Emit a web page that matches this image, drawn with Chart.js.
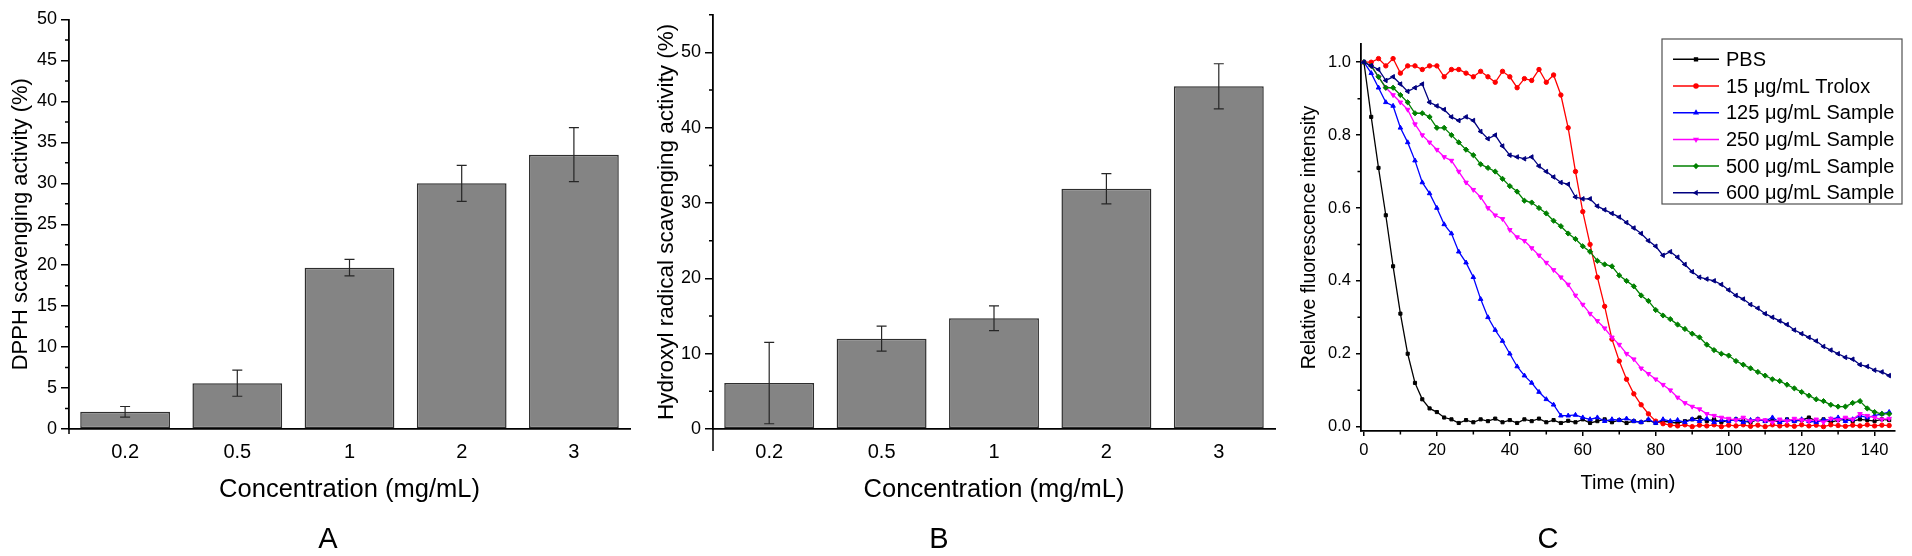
<!DOCTYPE html>
<html>
<head>
<meta charset="utf-8">
<title>Antioxidant activity</title>
<script src="https://cdn.jsdelivr.net/npm/chart.js"></script>
<style>
  html, body { margin: 0; padding: 0; background: #fff; }
  body { width: 1912px; height: 556px; position: relative; overflow: hidden; font-family: "Liberation Sans", Arial, sans-serif; }
  .panel { position: absolute; top: 0; height: 556px; }
  .letter { position: absolute; top: 538px; font-size: 29px; line-height: 1; transform: translate(-50%, -50%); color: #000; }
</style>
</head>
<body>
<div class="panel" style="left:0;width:660px"><canvas id="chartA" width="660" height="556"></canvas></div>
<div class="panel" style="left:600px;width:700px"><canvas id="chartB" width="700" height="556"></canvas></div>
<div class="panel" style="left:1290px;width:622px"><canvas id="chartC" width="622" height="556"></canvas></div>
<div class="letter" style="left:328px">A</div>
<div class="letter" style="left:939px">B</div>
<div class="letter" style="left:1548px">C</div>

<script>
// ---- data ----
const concentrations = ['0.2', '0.5', '1', '2', '3'];

const dpphActivity = [2.1, 5.6, 19.7, 30.0, 33.5];
const dpphError = [0.65, 1.6, 1.0, 2.2, 3.3];
const dpphTicks = [0, 5, 10, 15, 20, 25, 30, 35, 40, 45, 50];
const dpphMinorTicks = [2.5, 7.5, 12.5, 17.5, 22.5, 27.5, 32.5, 37.5, 42.5, 47.5];

const hydroxylActivity = [6.1, 12.0, 14.7, 31.9, 45.5];
const hydroxylError = [5.4, 1.65, 1.65, 2.0, 3.0];
const hydroxylTicks = [0, 10, 20, 30, 40, 50];
const hydroxylMinorTicks = [5, 15, 25, 35, 45, 55];

const timeMin = [
  0, 2, 4, 6, 8, 10, 12, 14, 16, 18,
  20, 22, 24, 26, 28, 30, 32, 34, 36, 38,
  40, 42, 44, 46, 48, 50, 52, 54, 56, 58,
  60, 62, 64, 66, 68, 70, 72, 74, 76, 78,
  80, 82, 84, 86, 88, 90, 92, 94, 96, 98,
  100, 102, 104, 106, 108, 110, 112, 114, 116, 118,
  120, 122, 124, 126, 128, 130, 132, 134, 136, 138,
  140, 142, 144
];
const timeTicks = [0, 20, 40, 60, 80, 100, 120, 140];
const timeMinorTicks = [10, 30, 50, 70, 90, 110, 130];
const intensityTicks = [0, 0.2, 0.4, 0.6, 0.8, 1.0];
const intensityMinorTicks = [0.1, 0.3, 0.5, 0.7, 0.9];

const pbs = [
  1.00, 0.85, 0.71, 0.58, 0.44, 0.31, 0.20, 0.12, 0.075, 0.05,
  0.04, 0.025, 0.02, 0.01, 0.018, 0.012, 0.02, 0.015, 0.022, 0.012,
  0.018, 0.01, 0.02, 0.015, 0.022, 0.012, 0.018, 0.01, 0.016, 0.012,
  0.02, 0.01, 0.015, 0.02, 0.012, 0.018, 0.01, 0.015, 0.012, 0.018,
  0.01, 0.015, 0.012, 0.01, 0.015, 0.02, 0.025, 0.015, 0.02, 0.012,
  0.018, 0.02, 0.015, 0.012, 0.02, 0.015, 0.018, 0.012, 0.02, 0.015,
  0.018, 0.025, 0.015, 0.02, 0.012, 0.018, 0.02, 0.015, 0.02, 0.018,
  0.015, 0.02, 0.018
];
const trolox15 = [
  1.00, 1.00, 1.01, 0.99, 1.01, 0.97, 0.99, 0.99, 0.98, 0.99,
  0.99, 0.96, 0.98, 0.98, 0.97, 0.96, 0.975, 0.96, 0.945, 0.975,
  0.96, 0.93, 0.955, 0.95, 0.98, 0.945, 0.965, 0.91, 0.82, 0.70,
  0.59, 0.50, 0.41, 0.33, 0.24, 0.18, 0.13, 0.09, 0.06, 0.035,
  0.015, 0.008, 0.004, 0.002, 0.005, 0.0, 0.004, 0.002, 0.005, 0.0,
  0.004, 0.002, 0.005, 0.001, 0.004, 0.0, 0.005, 0.002, 0.004, 0.001,
  0.005, 0.002, 0.004, 0.0, 0.005, 0.003, 0.001, 0.004, 0.002, 0.005,
  0.002, 0.004, 0.003
];
const sample125 = [
  1.00, 0.97, 0.93, 0.89, 0.88, 0.82, 0.78, 0.73, 0.67, 0.64,
  0.60, 0.555, 0.53, 0.48, 0.45, 0.41, 0.35, 0.30, 0.265, 0.235,
  0.20, 0.165, 0.14, 0.12, 0.095, 0.075, 0.06, 0.03, 0.03, 0.032,
  0.025, 0.02, 0.025, 0.015, 0.02, 0.018, 0.022, 0.015, 0.012, 0.02,
  0.01, 0.02, 0.015, 0.018, 0.012, 0.02, 0.015, 0.022, 0.012, 0.018,
  0.015, 0.02, 0.012, 0.018, 0.02, 0.015, 0.025, 0.012, 0.018, 0.015,
  0.02, 0.015, 0.012, 0.018, 0.02, 0.025, 0.015, 0.02, 0.03, 0.025,
  0.03, 0.035, 0.04
];
const sample250 = [
  1.00, 0.99, 0.96, 0.93, 0.91, 0.89, 0.87, 0.83, 0.80, 0.78,
  0.76, 0.74, 0.73, 0.70, 0.67, 0.65, 0.63, 0.60, 0.58, 0.57,
  0.54, 0.52, 0.51, 0.49, 0.47, 0.45, 0.43, 0.41, 0.39, 0.36,
  0.335, 0.31, 0.29, 0.27, 0.245, 0.225, 0.20, 0.185, 0.16, 0.145,
  0.13, 0.115, 0.10, 0.08, 0.065, 0.055, 0.048, 0.035, 0.03, 0.025,
  0.022, 0.018, 0.025, 0.015, 0.02, 0.018, 0.012, 0.02, 0.015, 0.022,
  0.018, 0.015, 0.02, 0.012, 0.022, 0.018, 0.025, 0.02, 0.035, 0.03,
  0.025, 0.02, 0.022
];
const sample500 = [
  1.00, 0.99, 0.96, 0.93, 0.93, 0.91, 0.89, 0.86, 0.86, 0.85,
  0.82, 0.82, 0.80, 0.78, 0.76, 0.745, 0.72, 0.71, 0.70, 0.68,
  0.66, 0.645, 0.62, 0.615, 0.60, 0.585, 0.565, 0.55, 0.53, 0.515,
  0.495, 0.48, 0.455, 0.445, 0.44, 0.415, 0.40, 0.385, 0.36, 0.345,
  0.32, 0.305, 0.295, 0.28, 0.268, 0.255, 0.245, 0.225, 0.21, 0.20,
  0.195, 0.18, 0.17, 0.16, 0.15, 0.14, 0.13, 0.125, 0.115, 0.105,
  0.095, 0.085, 0.075, 0.07, 0.06, 0.055, 0.055, 0.065, 0.07, 0.05,
  0.04, 0.035, 0.035
];
const sample600 = [
  1.00, 0.99, 0.98, 0.95, 0.96, 0.94, 0.92, 0.93, 0.94, 0.89,
  0.88, 0.87, 0.85, 0.84, 0.85, 0.84, 0.81, 0.79, 0.80, 0.77,
  0.745, 0.74, 0.735, 0.74, 0.715, 0.70, 0.685, 0.67, 0.665, 0.63,
  0.625, 0.625, 0.605, 0.595, 0.585, 0.575, 0.56, 0.545, 0.53, 0.51,
  0.495, 0.47, 0.48, 0.465, 0.445, 0.425, 0.41, 0.405, 0.40, 0.39,
  0.375, 0.36, 0.35, 0.335, 0.325, 0.31, 0.30, 0.29, 0.28, 0.265,
  0.255, 0.245, 0.235, 0.22, 0.21, 0.20, 0.19, 0.185, 0.17, 0.165,
  0.155, 0.15, 0.14
];

const seriesLabels = ['PBS', '15 \u03bcg/mL Trolox', '125 \u03bcg/mL Sample',
  '250 \u03bcg/mL Sample', '500 \u03bcg/mL Sample', '600 \u03bcg/mL Sample'];
const seriesValues = [pbs, trolox15, sample125, sample250, sample500, sample600];

// ---- styling ----
const FONT = '"Liberation Sans", Arial, Helvetica, sans-serif';
Chart.defaults.font.family = FONT;
Chart.defaults.color = '#000';

const seriesColors = ['#000000', '#ff0000', '#0000ff', '#ff00ff', '#008000', '#000080'];
const seriesMarkers = [
  { style: 'rect', rot: 0, r: 2.2 },
  { style: 'circle', rot: 0, r: 2.2 },
  { style: 'triangle', rot: 0, r: 2.6 },
  { style: 'triangle', rot: 180, r: 2.6 },
  { style: 'rectRot', rot: 0, r: 2.6 },
  { style: 'triangle', rot: -90, r: 2.6 }
];

// minor ticks + optional stub of the y axis below the x axis
function minorTicks(xMinor, yMinor, len, yExtend) {
  return {
    id: 'minorTicks',
    afterDraw(chart) {
      const ctx = chart.ctx, area = chart.chartArea;
      const xs = chart.scales.x, ys = chart.scales.y;
      ctx.save();
      ctx.strokeStyle = '#000';
      ctx.lineWidth = 1.5;
      ctx.beginPath();
      yMinor.forEach(v => {
        const py = ys.getPixelForValue(v);
        ctx.moveTo(area.left - len, py);
        ctx.lineTo(area.left, py);
      });
      xMinor.forEach(v => {
        const px = xs.getPixelForValue(v);
        ctx.moveTo(px, area.bottom);
        ctx.lineTo(px, area.bottom + len);
      });
      if (yExtend) {
        ctx.moveTo(area.left, area.bottom);
        ctx.lineTo(area.left, area.bottom + yExtend);
      }
      ctx.stroke();
      ctx.restore();
    }
  };
}

const errorBars = {
  id: 'errorBars',
  afterDatasetsDraw(chart) {
    const ctx = chart.ctx, ys = chart.scales.y;
    chart.data.datasets.forEach((ds, di) => {
      if (!ds.errors) return;
      chart.getDatasetMeta(di).data.forEach((bar, i) => {
        const top = ys.getPixelForValue(ds.data[i] + ds.errors[i]);
        const bot = ys.getPixelForValue(ds.data[i] - ds.errors[i]);
        ctx.save();
        ctx.strokeStyle = '#262626';
        ctx.lineWidth = 1.2;
        ctx.beginPath();
        ctx.moveTo(bar.x, top); ctx.lineTo(bar.x, bot);
        ctx.moveTo(bar.x - 5, top); ctx.lineTo(bar.x + 5, top);
        ctx.moveTo(bar.x - 5, bot); ctx.lineTo(bar.x + 5, bot);
        ctx.stroke();
        ctx.restore();
      });
    });
  }
};

function barChart(id, values, errors, ticks, minor, yMax, g) {
  return new Chart(document.getElementById(id), {
    type: 'bar',
    data: {
      labels: concentrations,
      datasets: [{
        data: values,
        errors: errors,
        backgroundColor: '#848484',
        borderColor: '#2e2e2e',
        borderWidth: 1.5,
        borderSkipped: false,
        barPercentage: 0.8,
        categoryPercentage: 1
      }]
    },
    options: {
      responsive: false,
      animation: false,
      layout: { padding: g.padding },
      plugins: { legend: { display: false }, tooltip: { enabled: false } },
      scales: {
        x: {
          grid: { display: false, drawTicks: false },
          border: { display: true, color: '#000', width: 1.8 },
          ticks: { font: { size: 20 }, padding: 11 },
          title: { display: true, text: 'Concentration (mg/mL)', font: { size: 25.5 }, padding: { top: 0, bottom: 0 } },
          afterFit: s => { s.height = g.xHeight; }
        },
        y: {
          min: 0,
          max: yMax,
          afterBuildTicks: s => { s.ticks = ticks.map(v => ({ value: v })); },
          grid: { drawOnChartArea: false, drawTicks: true, tickLength: 8, color: '#000', lineWidth: 1.5 },
          border: { display: true, color: '#000', width: 1.8 },
          ticks: { font: { size: 18 }, padding: 4 },
          title: { display: true, text: g.yTitle, font: { size: g.yTitleSize }, padding: { top: g.yTitlePad, bottom: 0 } },
          afterFit: s => { s.width = g.yWidth; }
        }
      }
    },
    plugins: [errorBars, minorTicks([], minor, 4, g.yExtend)]
  });
}

barChart('chartA', dpphActivity, dpphError, dpphTicks, dpphMinorTicks, 50, {
  padding: { top: 19.5, right: 30, bottom: 50.7, left: 0 },
  xHeight: 76.3, yWidth: 69, yExtend: 5,
  yTitle: 'DPPH scavenging activity (%)', yTitleSize: 22, yTitlePad: 7.3
});

barChart('chartB', hydroxylActivity, hydroxylError, hydroxylTicks, hydroxylMinorTicks, 55, {
  padding: { top: 14, right: 25, bottom: 50.7, left: 0 },
  xHeight: 76.3, yWidth: 113, yExtend: 22,
  yTitle: 'Hydroxyl radical scavenging activity (%)', yTitleSize: 22.5, yTitlePad: 53
});

// legend drawn as a framed box inside the plot, line + marker + label
const boxLegend = {
  id: 'boxLegend',
  afterDraw(chart) {
    const ctx = chart.ctx, a = chart.chartArea;
    const left = a.right - 233, top = a.top - 5, w = 240, h = 165;
    ctx.save();
    ctx.fillStyle = '#fff';
    ctx.fillRect(left, top, w, h);
    ctx.strokeStyle = '#505050';
    ctx.lineWidth = 1.2;
    ctx.strokeRect(left, top, w, h);
    ctx.font = '20px ' + FONT;
    ctx.textBaseline = 'middle';
    chart.data.datasets.forEach((ds, i) => {
      const yy = top + 20.3 + i * 26.7;
      ctx.strokeStyle = ds.borderColor;
      ctx.lineWidth = 1.5;
      ctx.beginPath();
      ctx.moveTo(left + 11, yy);
      ctx.lineTo(left + 57, yy);
      ctx.stroke();
      const m = seriesMarkers[i];
      if (Chart.helpers && Chart.helpers.drawPoint) {
        ctx.fillStyle = ds.borderColor;
        Chart.helpers.drawPoint(ctx, { pointStyle: m.style, rotation: m.rot, radius: 2, borderWidth: 1 }, left + 34, yy);
      }
      ctx.fillStyle = '#000';
      ctx.fillText(ds.label, left + 64, yy + 1);
    });
    ctx.restore();
  }
};

new Chart(document.getElementById('chartC'), {
  type: 'line',
  data: {
    datasets: seriesValues.map((vals, i) => ({
      label: seriesLabels[i],
      data: timeMin.map((t, k) => ({ x: t, y: vals[k] })),
      borderColor: seriesColors[i],
      backgroundColor: seriesColors[i],
      borderWidth: 1.3,
      pointStyle: seriesMarkers[i].style,
      pointRotation: seriesMarkers[i].rot,
      pointRadius: seriesMarkers[i].r,
      pointBorderWidth: 1,
      tension: 0,
      order: seriesValues.length - i
    }))
  },
  options: {
    responsive: false,
    animation: false,
    layout: { padding: { top: 44, right: 17, bottom: 61, left: 0 } },
    plugins: { legend: { display: false }, tooltip: { enabled: false } },
    scales: {
      x: {
        type: 'linear',
        min: -0.8,
        max: 145.6,
        afterBuildTicks: s => { s.ticks = timeTicks.map(v => ({ value: v })); },
        grid: { drawOnChartArea: false, drawTicks: true, tickLength: 5, color: '#000', lineWidth: 1.5 },
        border: { display: true, color: '#000', width: 1.8 },
        ticks: { font: { size: 16.5 }, padding: 5 },
        title: { display: true, text: 'Time (min)', font: { size: 20 }, padding: { top: 0, bottom: 0 } },
        afterFit: s => { s.height = 64; }
      },
      y: {
        min: -0.012,
        max: 1.05,
        afterBuildTicks: s => { s.ticks = intensityTicks.map(v => ({ value: v })); },
        grid: { drawOnChartArea: false, drawTicks: true, tickLength: 5, color: '#000', lineWidth: 1.5 },
        border: { display: true, color: '#000', width: 1.8 },
        ticks: { font: { size: 16.5 }, padding: 5, callback: v => Number(v).toFixed(1) },
        title: { display: true, text: 'Relative fluorescence intensity', font: { size: 19.5 }, padding: { top: 8.3, bottom: 0 } },
        afterFit: s => { s.width = 71; }
      }
    }
  },
  plugins: [minorTicks(timeMinorTicks, intensityMinorTicks, 3.5, 0), boxLegend]
});
</script>
</body>
</html>
